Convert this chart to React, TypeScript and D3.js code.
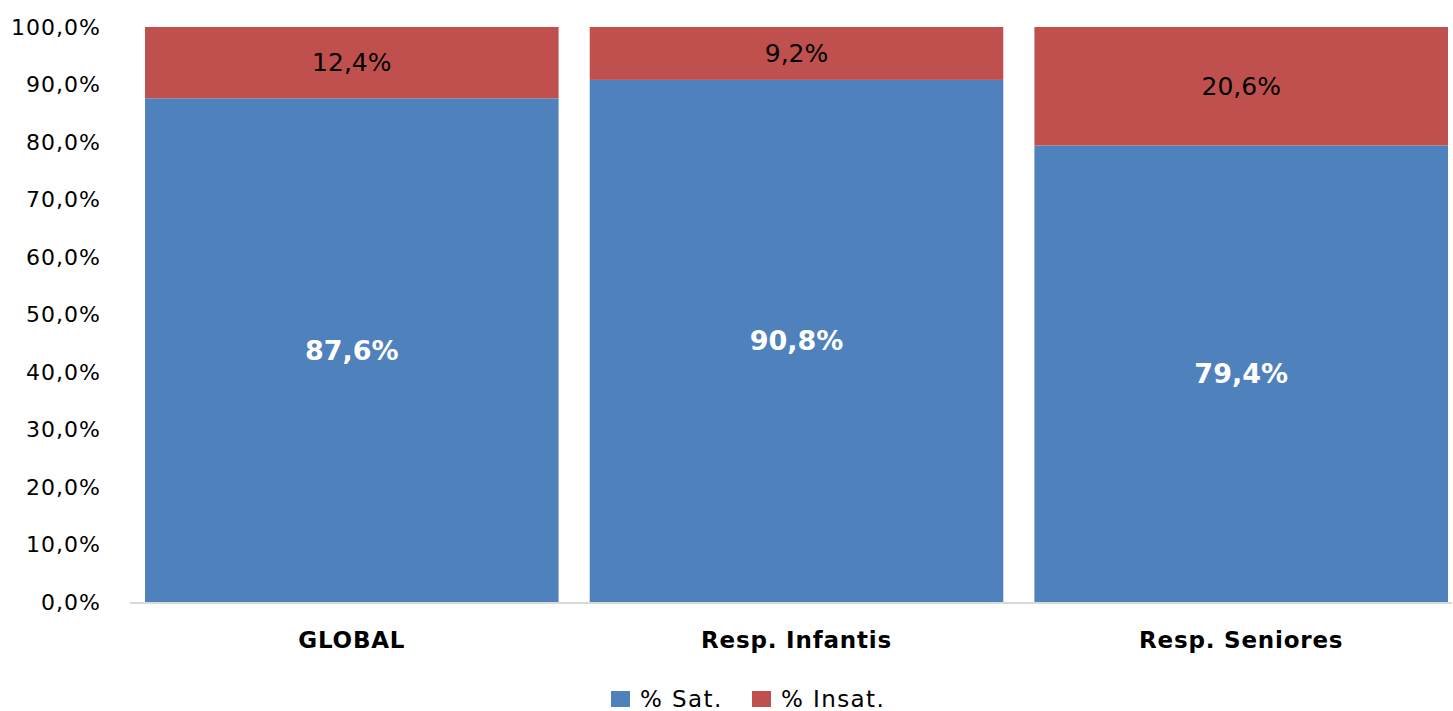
import React from "react";
import * as d3 from "d3";

const WIDTH = 1453;
const HEIGHT = 711;
const FONT = "'DejaVu Sans', Verdana, sans-serif";

const categories = ["GLOBAL", "Resp. Infantis", "Resp. Seniores"];
const satValues = [87.6, 90.8, 79.4];
const insatValues = [12.4, 9.2, 20.6];
const yTicks = [0, 10, 20, 30, 40, 50, 60, 70, 80, 90, 100];
const seriesNames = ["% Sat.", "% Insat."];
const COLORS = ["#4F81BD", "#C0504D"];

const fmt = (v: number) => v.toFixed(1).replace(".", ",") + "%";

export default function App() {
  const xScale = d3
    .scaleBand<string>()
    .domain(categories)
    .range([145, 1448])
    .paddingInner(0.07)
    .paddingOuter(0);

  const yScale = d3.scaleLinear().domain([0, 100]).range([602, 27]);

  const stacked = categories.map((c, i) => ({
    name: c,
    sat: satValues[i],
    insat: insatValues[i],
  }));

  return (
    <svg
      width={WIDTH}
      height={HEIGHT}
      style={{ position: "fixed", left: 0, top: 0, display: "block" }}
    >
      <rect width={WIDTH} height={HEIGHT} fill="#fff" />

      {/* y tick labels */}
      {yTicks.map((t) => (
        <text
          key={t}
          x={101}
          y={yScale(t)}
          textAnchor="end"
          dominantBaseline="central"
          fontFamily={FONT}
          fontSize={22}
          letterSpacing={1}
          fill="#000"
        >
          {fmt(t)}
        </text>
      ))}

      {/* bars */}
      {stacked.map((d) => {
        const x = xScale(d.name)!;
        const w = xScale.bandwidth();
        const ySatTop = yScale(d.sat);
        const yTop = yScale(d.sat + d.insat);
        return (
          <g key={d.name}>
            <rect
              x={x}
              y={ySatTop}
              width={w}
              height={yScale(0) - ySatTop}
              fill={COLORS[0]}
            />
            <rect
              x={x}
              y={yTop}
              width={w}
              height={ySatTop - yTop}
              fill={COLORS[1]}
            />
            <text
              x={x + w / 2}
              y={(ySatTop + yScale(0)) / 2}
              textAnchor="middle"
              dominantBaseline="central"
              fontFamily={FONT}
              fontWeight="bold"
              fontSize={27}
              fill="#fff"
            >
              {fmt(d.sat)}
            </text>
            <text
              x={x + w / 2}
              y={(ySatTop + yTop) / 2}
              textAnchor="middle"
              dominantBaseline="central"
              fontFamily={FONT}
              fontSize={25}
              fill="#000"
            >
              {fmt(d.insat)}
            </text>
            <text
              x={x + w / 2}
              y={640}
              textAnchor="middle"
              dominantBaseline="central"
              fontFamily={FONT}
              fontWeight="bold"
              fontSize={23}
              letterSpacing={0.8}
              fill="#000"
            >
              {d.name}
            </text>
          </g>
        );
      })}

      {/* x axis line */}
      <line x1={130} x2={1452} y1={603} y2={603} stroke="#D9D9D9" strokeWidth={2} />

      {/* legend */}
      {seriesNames.map((s, i) => {
        const lx = i === 0 ? 611 : 752;
        return (
          <g key={s}>
            <rect x={lx} y={691} width={19} height={16} fill={COLORS[i]} />
            <text
              x={lx + 29}
              y={707}
              fontFamily={FONT}
              fontSize={23}
              letterSpacing={1.4}
              fill="#000"
            >
              {s}
            </text>
          </g>
        );
      })}
    </svg>
  );
}
